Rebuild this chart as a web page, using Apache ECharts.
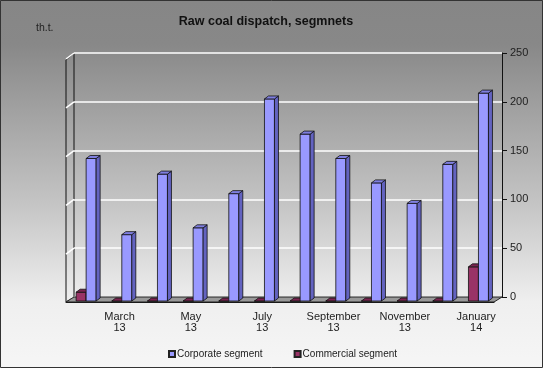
<!DOCTYPE html>
<html><head><meta charset="utf-8">
<script src="https://cdn.jsdelivr.net/npm/echarts@6/dist/echarts.min.js"></script>
<style>html,body{margin:0;padding:0;}#c{width:543px;height:368px;}</style>
</head><body><div id="c"></div>
<script>
const categories = ['February\n13','March\n13','April\n13','May\n13','June\n13','July\n13','August\n13','September\n13','October\n13','November\n13','December\n13','January\n14'];
const corporate = [146, 68, 130, 75, 110, 207, 171, 146, 121, 100, 140, 213];
const commercial = [9, 0, 0, 0, 0, 0, 0, 0, 0, 0, 0, 35];
const yTicks = [0, 50, 100, 150, 200, 250];

const W = 543, H = 368;
const back = {l: 74, r: 502, t: 53, b: 297};
const front = {l: 66, r: 494, t: 60, b: 302};
const font = 'Liberation Sans, Arial, sans-serif';

function makeRender(side, cols) {
  return function (params, api) {
    const i = api.value(0), v = api.value(1);
    const p = api.coord([i, v]);
    const b0 = api.coord([i, 0]);
    const bw = 10, dx = 4, dy = 3;
    const cx = p[0] - 5.7;
    const x0 = side === 0 ? cx - bw : cx;
    const top = p[1] + 4, bot = b0[1] + 4;
    const st = {stroke: '#111', lineWidth: 0.8};
    return {
      type: 'group',
      children: [
        {type: 'rect', shape: {x: x0, y: top, width: bw, height: bot - top}, style: Object.assign({fill: cols[0]}, st)},
        {type: 'polygon', shape: {points: [[x0 + bw, top], [x0 + bw + dx, top - dy], [x0 + bw + dx, bot - dy], [x0 + bw, bot]]}, style: Object.assign({fill: cols[1]}, st)},
        {type: 'polygon', shape: {points: [[x0, top], [x0 + dx, top - dy], [x0 + bw + dx, top - dy], [x0 + bw, top]]}, style: Object.assign({fill: cols[2]}, st)}
      ]
    };
  };
}

const chart = echarts.init(document.getElementById('c'), null, {renderer: 'canvas'});

const wallSlashes = yTicks.map(t => {
  const y = back.b - (back.b - back.t) * t / 250;
  return {type: 'line', shape: {x1: front.l, y1: y + 6, x2: back.l, y2: y}, style: {stroke: '#ffffff', lineWidth: 1.5}, z: -5};
});

chart.setOption({
  animation: false,
  backgroundColor: {type: 'linear', x: 0, y: 0, x2: 0, y2: 1, colorStops: [
    {offset: 0, color: '#868686'}, {offset: 0.12, color: '#888888'}, {offset: 0.55, color: '#c4c4c4'}, {offset: 0.82, color: '#efefef'}, {offset: 1, color: '#f6f6f6'}]},
  title: {text: 'Raw coal dispatch, segmnets', left: 261, top: 10, textAlign: 'center',
    textStyle: {fontFamily: font, fontSize: 12.5, fontWeight: 'bold', color: '#111'}},
  legend: {
    data: ['Corporate segment', 'Commercial segment'],
    left: 163, top: 344, itemWidth: 6, itemHeight: 6, itemGap: 31,
    icon: 'rect',
    textStyle: {fontFamily: font, fontSize: 10, color: '#222', padding: [0, 0, 0, -3]}
  },
  grid: [
    {left: back.l, right: W - back.r, top: back.t, bottom: H - back.b},
    {left: front.l, right: W - front.r, top: front.t, bottom: H - front.b}
  ],
  xAxis: [
    {type: 'category', gridIndex: 0, data: categories, axisLine: {show: false}, axisTick: {show: false}, axisLabel: {show: false}},
    {type: 'category', gridIndex: 1, data: categories,
      axisLine: {lineStyle: {color: '#111', width: 1}},
      axisTick: {interval: 0, length: 4, lineStyle: {color: '#111'}},
      axisLabel: {interval: (idx) => idx % 2 === 1, fontFamily: font, fontSize: 11, color: '#222', lineHeight: 11, margin: 9}}
  ],
  yAxis: [
    {type: 'value', gridIndex: 0, position: 'right', min: 0, max: 250, interval: 50,
      axisLine: {show: true, lineStyle: {color: '#111'}},
      axisTick: {show: true, length: 5, lineStyle: {color: '#111'}},
      axisLabel: {fontFamily: font, fontSize: 11, color: '#222', margin: 8},
      splitLine: {lineStyle: {color: '#ffffff', width: 1.5}}},
    {type: 'value', gridIndex: 1, min: 0, max: 250, show: false}
  ],
  graphic: [
    {type: 'text', left: 36, top: 23, style: {text: 'th.t.', font: '10.5px ' + font, fill: '#222'}},
    {type: 'polygon', shape: {points: [[front.l, front.t], [back.l, back.t], [back.l, back.b], [front.l, front.b]]},
      style: {fill: 'rgba(0,0,0,0)', stroke: '#111', lineWidth: 1}, z: -6},
    ...wallSlashes,
    {type: 'polygon', shape: {points: [[front.l, front.b], [front.r, front.b], [back.r, back.b], [back.l, back.b]]},
      style: {fill: '#999999', stroke: '#222', lineWidth: 1}, z: 1},
    {type: 'rect', shape: {x: 0.5, y: 0.5, width: W - 1, height: H - 1}, style: {fill: 'none', stroke: '#333', lineWidth: 1}, z: 100}
  ],
  series: [
    {name: 'Commercial segment', type: 'custom', xAxisIndex: 0, yAxisIndex: 0, z: 3,
      itemStyle: {color: '#993366', borderColor: '#222', borderWidth: 1},
      renderItem: makeRender(0, ['#993366', '#5e1a3c', '#7a2450']),
      data: commercial.map((v, i) => [i, v])},
    {name: 'Corporate segment', type: 'custom', xAxisIndex: 0, yAxisIndex: 0, z: 4,
      itemStyle: {color: '#9999ff', borderColor: '#222', borderWidth: 1},
      renderItem: makeRender(1, ['#9999ff', '#6363c0', '#7f7fe0']),
      data: corporate.map((v, i) => [i, v])}
  ]
});
</script></body></html>
